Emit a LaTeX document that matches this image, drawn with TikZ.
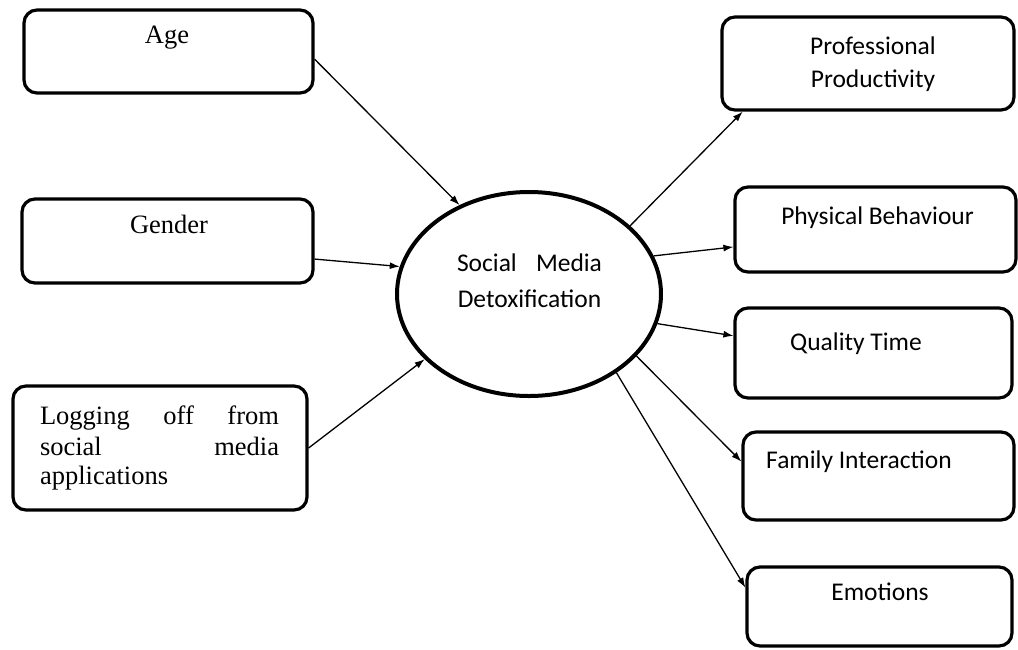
\documentclass[tikz,border=0pt]{standalone}
\usepackage{fontspec}
\setmainfont{Liberation Serif}
\newfontfamily\calibrifont{Carlito}
\usetikzlibrary{arrows.meta,shapes.geometric}
\begin{document}
\begin{tikzpicture}[x=1pt,y=-1pt,
  box/.style={draw, line width=3.2pt, rounded corners=13pt, inner sep=0pt},
  lab/.style={inner sep=0pt, anchor=base, font=\fontsize{26.5}{30}\selectfont},
  sanslab/.style={inner sep=0pt, anchor=base, font=\calibrifont\fontsize{25.5}{30}\selectfont},
  conn/.style={line width=1.3pt, -{Latex[length=10pt,width=7pt]}}]
\fill[white] (0,0) rectangle (1018,649);
\useasboundingbox (0,0) rectangle (1018,649);

% left boxes
\node[box, minimum width=289pt, minimum height=83pt] (age) at (168.5,51.5) {};
\node[lab] (agetxt) at ([xshift=-1.5pt, yshift=8.5pt]age.center) {Age};
\node[box, minimum width=291pt, minimum height=84pt] (gender) at (167.5,241) {};
\node[lab] (gendertxt) at ([xshift=1.5pt, yshift=8pt]gender.center) {Gender};
\node[box, minimum width=294pt, minimum height=124pt] (logging) at (160,448) {};
\node[lab] (logtxta) at ([xshift=-0.5pt, yshift=24pt]logging.center) {\makebox[239pt][s]{Logging off from}};
\node[lab] (logtxtb) at ([xshift=-0.5pt, yshift=-7pt]logging.center) {\makebox[239pt][s]{social media}};
\node[lab] (logtxtc) at ([xshift=-0.5pt, yshift=-36pt]logging.center) {\makebox[239pt][l]{applications}};

% centre ellipse
\node[draw, ellipse, line width=4pt, minimum width=264pt, minimum height=204pt, inner sep=0pt] (sm) at (529,294) {};
\node[sanslab] (smtxta) at ([xshift=0.5pt, yshift=23pt]sm.center) {\makebox[145pt][s]{Social Media}};
\node[sanslab] (smtxtb) at ([xshift=0.5pt, yshift=-13pt]sm.center) {Detoxification};

% right boxes
\node[box, minimum width=292pt, minimum height=93pt] (prof) at (868,63.5) {};
\node[sanslab] (proftxta) at ([xshift=5pt, yshift=9.5pt]prof.center) {Professional};
\node[sanslab] (proftxtb) at ([xshift=5pt, yshift=-23.5pt]prof.center) {Productivity};
\node[box, minimum width=281pt, minimum height=85pt] (phys) at (875.5,229.5) {};
\node[sanslab] (phystxt) at ([xshift=2pt, yshift=5.5pt]phys.center) {Physical Behaviour};
\node[box, minimum width=277pt, minimum height=90pt] (qual) at (873.5,353) {};
\node[sanslab] (qualtxt) at ([xshift=-17.5pt, yshift=3pt]qual.center) {Quality Time};
\node[box, minimum width=271pt, minimum height=88pt] (fam) at (878.5,476) {};
\node[sanslab] (famtxt) at ([xshift=-19.5pt, yshift=8pt]fam.center) {Family Interaction};
\node[box, minimum width=265pt, minimum height=79pt] (emo) at (879.5,606.5) {};
\node[sanslab] (emotxt) at ([xshift=0.5pt, yshift=6.5pt]emo.center) {Emotions};

% connectors
\draw[conn] (age.-3.7) -- (sm.128.1);
\draw[conn] (gender.-7.7) -- (sm.168.2);
\draw[conn] (logging.east) -- (sm.212.4);
\draw[conn] (sm.34.3) -- (prof.-159.3);
\draw[conn] (sm.17.5) -- (phys.187.5);
\draw[conn] (sm.-13.5) -- (qual.173.8);
\draw[conn] (sm.-30) -- (fam.174.1);
\draw[conn] (sm.-42.6) -- (emo.172.7);
\end{tikzpicture}
\end{document}
